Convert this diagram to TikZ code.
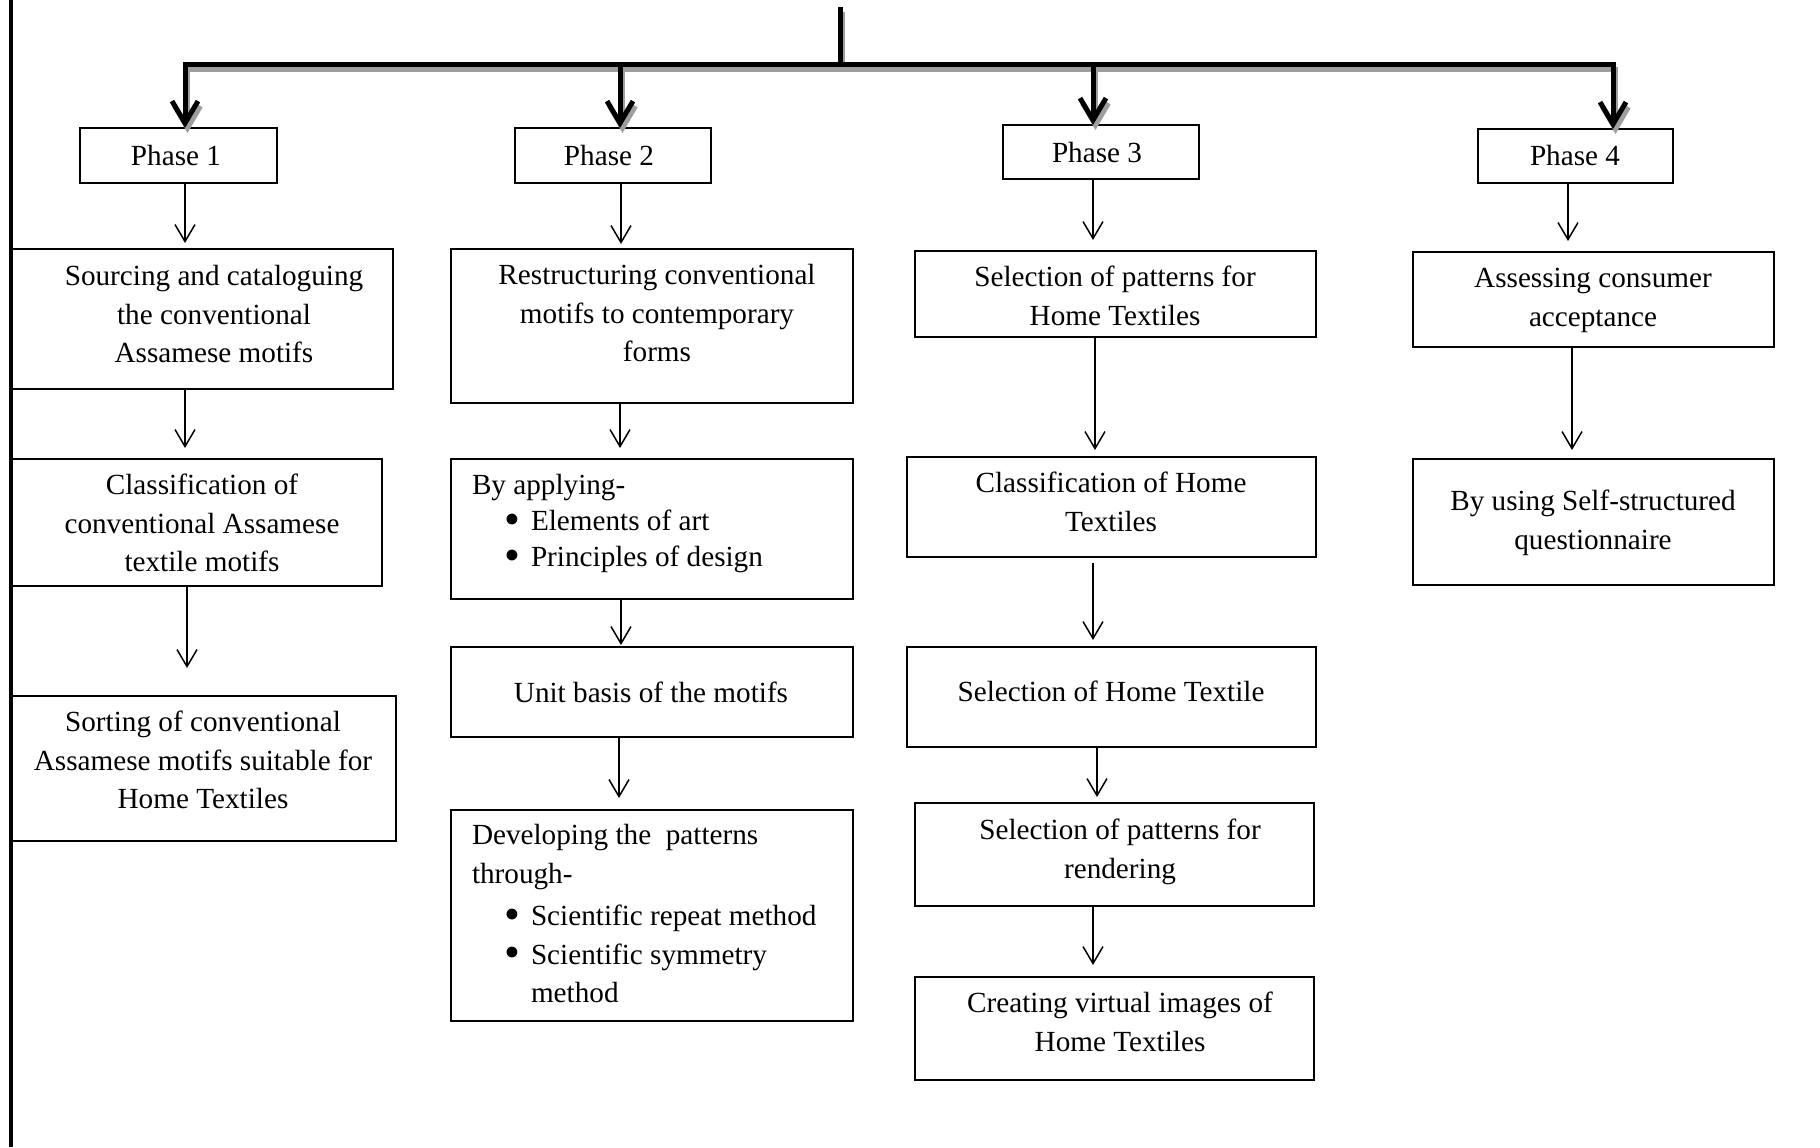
\documentclass[tikz,border=0pt]{standalone}
\usepackage{fontspec}
\setmainfont{Liberation Serif}
\usetikzlibrary{arrows.meta,fit}
\newcommand\mybranches{%
  \draw[bar] (b1) -- (b4);
  \draw[bar, line cap=butt] (stem) -- (stem |- b1);
  \draw[thickarr] (b1) -- (P1.north -| b1);
  \draw[thickarr] (b2) -- (P2.north -| b2);
  \draw[thickarr] (b3) -- (P3.north -| b3);
  \draw[thickarr] (b4) -- (P4.north -| b4);
}
\newcommand\bul{\hspace*{16pt}\makebox[13.5pt][l]{\raisebox{-1.6pt}{\scalebox{1.55}{•}}}}
\begin{document}
\begin{tikzpicture}[x=0.5pt,y=-0.5pt,
  box/.style={draw=black, line width=0.8pt, inner sep=0pt, outer sep=0pt, rectangle},
  txt/.style={font=\fontsize{14.6pt}{19.25pt}\selectfont, inner sep=0pt, outer sep=0pt, align=center, text=black},
  ltxt/.style={txt, align=left, anchor=north west},
  ctxt/.style={txt, anchor=north},
  btxt/.style={txt, anchor=base},
  thinarr/.style={line width=0.75pt, -{Straight Barb[length=8.5pt,width=10pt]}},
  thickarr/.style={line width=2.5pt, -{Straight Barb[length=11pt,width=13pt]}},
  bar/.style={line width=2.5pt, line cap=rect},
]
\useasboundingbox (0,0) rectangle (1820,1147);

% left rule
\coordinate (L1) at (11,0);
\coordinate (L2) at (11,1147);
\draw[line width=1.8pt] (L1) -- (L2);

% phase boxes
\node[box, fit={(80,128)(277,183)}] (P1) {};
\node[btxt] (P1t) at (176,165) {Phase 1};
\node[box, fit={(515,128)(711,183)}] (P2) {};
\node[btxt] (P2t) at (609,165) {Phase 2};
\node[box, fit={(1003,125)(1199,179)}] (P3) {};
\node[btxt] (P3t) at (1097,162) {Phase 3};
\node[box, fit={(1478,129)(1673,183)}] (P4) {};
\node[btxt] (P4t) at (1575,165) {Phase 4};

% column 1
\node[box, fit={(12,249)(393,389)}] (S1) {};
\node[ctxt] (S1t) at (214,259) {\strut Sourcing and cataloguing\\the conventional\\Assamese motifs};
\node[box, fit={(12,459)(382,586)}] (C1) {};
\node[ctxt] (C1t) at (202,468) {\strut Classification of\\conventional Assamese\\textile motifs};
\node[box, fit={(12,696)(396,841)}] (So1) {};
\node[ctxt] (So1t) at (203,705) {\strut Sorting of conventional\\Assamese motifs suitable for\\Home Textiles};

% column 2
\node[box, fit={(451,249)(853,403)}] (R) {};
\node[ctxt] (Rt) at (657,258) {\strut Restructuring conventional\\motifs to contemporary\\forms};
\node[box, fit={(451,459)(853,599)}] (B) {};
\node[ltxt] (Bt) at (472,468) {\strut By applying-\\[-1.25pt]\bul Elements of art\\[-1.25pt]\bul Principles of design};
\node[box, fit={(451,647)(853,737)}] (U) {};
\node[btxt] (Ut) at (651,702) {Unit basis of the motifs};
\node[box, fit={(451,810)(853,1021)}] (D) {};
\node[ltxt] (Dt) at (472,818) {\strut Developing the\ \ patterns\\through-\\[2pt]\bul Scientific repeat method\\\bul Scientific symmetry\\\hspace*{29.5pt}method};

% column 3
\node[box, fit={(915,251)(1316,337)}] (SP) {};
\node[ctxt] (SPt) at (1115,260) {\strut Selection of patterns for\\Home Textiles};
\node[box, fit={(907,457)(1316,557)}] (CH) {};
\node[ctxt] (CHt) at (1111,466) {\strut Classification of Home\\Textiles};
\node[box, fit={(907,647)(1316,747)}] (SH) {};
\node[btxt] (SHt) at (1111,701) {Selection of Home Textile};
\node[box, fit={(915,803)(1314,906)}] (SR) {};
\node[ctxt] (SRt) at (1120,813) {\strut Selection of patterns for\\rendering};
\node[box, fit={(915,977)(1314,1080)}] (CV) {};
\node[ctxt] (CVt) at (1120,986) {\strut Creating virtual images of\\Home Textiles};

% column 4
\node[box, fit={(1413,252)(1774,347)}] (A) {};
\node[ctxt] (At) at (1593,261) {\strut Assessing consumer\\acceptance};
\node[box, fit={(1413,459)(1774,585)}] (Q) {};
\node[ctxt] (Qt) at (1593,484) {\strut By using Self-structured\\questionnaire};

% top branching structure
\coordinate (stem) at (840,7);
\coordinate (b1) at (185,64);
\coordinate (b2) at (620,64);
\coordinate (b3) at (1093,64);
\coordinate (b4) at (1613,64);
\begin{scope}[transform canvas={shift={(1.25pt,-2.5pt)}}, color=black!38]
  \mybranches
\end{scope}
\begin{scope}[color=black]
  \mybranches
\end{scope}

% thin arrow tips
\coordinate (ta) at (185,243);
\coordinate (tb) at (185,448);
\coordinate (tc) at (187,668);
\coordinate (td) at (621,244);
\coordinate (te) at (620,448);
\coordinate (tf) at (621,645);
\coordinate (tg) at (619,798);
\coordinate (th) at (1093,240);
\coordinate (ti) at (1095,450);
\coordinate (tj) at (1093,640);
\coordinate (tk) at (1097,797);
\coordinate (tl) at (1093,965);
\coordinate (tm) at (1568,241);
\coordinate (tn) at (1572,450);

\draw[thinarr] (P1.south -| ta) -- (ta);
\draw[thinarr] (S1.south -| tb) -- (tb);
\draw[thinarr] (C1.south -| tc) -- (tc);
\draw[thinarr] (P2.south -| td) -- (td);
\draw[thinarr] (R.south -| te) -- (te);
\draw[thinarr] (B.south -| tf) -- (tf);
\draw[thinarr] (U.south -| tg) -- (tg);
\draw[thinarr] (P3.south -| th) -- (th);
\draw[thinarr] (SP.south -| ti) -- (ti);
\draw[thinarr, shorten <=3pt] (CH.south -| tj) -- (tj);
\draw[thinarr] (SH.south -| tk) -- (tk);
\draw[thinarr] (SR.south -| tl) -- (tl);
\draw[thinarr] (P4.south -| tm) -- (tm);
\draw[thinarr] (A.south -| tn) -- (tn);
\end{tikzpicture}
\end{document}
